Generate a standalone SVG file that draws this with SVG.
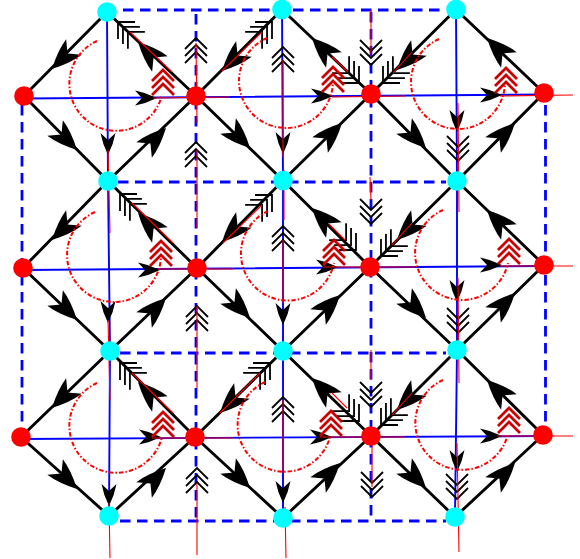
<svg xmlns="http://www.w3.org/2000/svg" width="580" height="559" viewBox="0 0 580 559">
<style>
.edge{fill:none;stroke:#000;stroke-width:2.9;stroke-linejoin:round}
.dash{fill:none;stroke:#00f;stroke-width:2.8;stroke-dasharray:10.500 6.500}
.blue{fill:none;stroke:#00f;stroke-width:1.9}
.thin{fill:none;stroke:#f00;stroke-width:1.1}
.arc{fill:none;stroke:#f00;stroke-width:2;stroke-dasharray:4.500 2 1.500 2}
.red{fill:#f00}
.cyan{fill:#0ff}
</style>
<defs>
<path id="big" d="M0 0Q-17 -9 -31 -11L-22 0L-31 11Q-17 9 0 0Z" fill="#000"/>
<path id="small" d="M0 0Q-11 -5.500 -22 -7.500L-15 0L-22 7.500Q-11 5.500 0 0Z" fill="#000"/>
<path id="chev" d="M-11 11L0 0L11 11M-11 18L0 7L11 18M-11 25L0 14L11 25" fill="none" stroke="#000" stroke-width="1.800"/>
<path id="chevd" d="M-12 12L0 0L12 12M-12 19L0 7L12 19M-12 26L0 14L12 26" fill="none" stroke="#000" stroke-width="1.800"/>
<path id="chevr" d="M-11 11L0 0L11 11M-11 18L0 7L11 18M-11 25L0 14L11 25" fill="none" stroke="#c00" stroke-width="2.800"/>
</defs>
<g id="connectors">
<g id="dashed">
<path class="dash" d="M123 10H445M118 182H446M120 353H446M120 521H446"/>
<path class="dash" d="M196 14V521M371 12V520M22 105V428M545.500 105V426"/>
</g>
<g id="blue-lines">
<path class="blue" d="M24 98.500L544 94.500M23 270L544 266M21 439L543 436"/>
<path class="blue" d="M107 12L108 181L110 351L109 516M282 9.500L283 180.500L283 351L283 518M456 9.500L457 181L457 350L455 517"/>
</g>
<g id="diamonds">
<polygon class="edge" points="107,12 24,96 108,181 196,96"/>
<polygon class="edge" points="282,9.500 196,96 283,180.500 371,94"/>
<polygon class="edge" points="456,9.500 371,94 457,181 544,93"/>
<polygon class="edge" points="108,181 23,268 110,351 197,268"/>
<polygon class="edge" points="283,180.500 197,268 283,351 370,267"/>
<polygon class="edge" points="457,181 370,267 457,350 544,265"/>
<polygon class="edge" points="110,351 21,437 109,516 195,437"/>
<polygon class="edge" points="283,351 195,437 283,518 371,436"/>
<polygon class="edge" points="457,350 371,436 455,517 543,435"/>
</g>
<g id="big-arrows">
<use href="#big" transform="translate(52 69) rotate(135)"/>
<use href="#big" transform="translate(77 150) rotate(45)"/>
<use href="#big" transform="translate(166 128) rotate(-45)"/>
<use href="#big" transform="translate(138 42) rotate(-135)"/>
<use href="#big" transform="translate(222 71) rotate(135)"/>
<use href="#big" transform="translate(250 148) rotate(45)"/>
<use href="#big" transform="translate(342 123) rotate(-45)"/>
<use href="#big" transform="translate(312 38) rotate(-135)"/>
<use href="#big" transform="translate(397 70) rotate(135)"/>
<use href="#big" transform="translate(426 148) rotate(45)"/>
<use href="#big" transform="translate(515 123) rotate(-45)"/>
<use href="#big" transform="translate(487 38) rotate(-135)"/>
<use href="#big" transform="translate(52 240) rotate(135)"/>
<use href="#big" transform="translate(77 320) rotate(45)"/>
<use href="#big" transform="translate(166 298) rotate(-45)"/>
<use href="#big" transform="translate(138 213) rotate(-135)"/>
<use href="#big" transform="translate(222 242) rotate(135)"/>
<use href="#big" transform="translate(250 318) rotate(45)"/>
<use href="#big" transform="translate(340 295) rotate(-45)"/>
<use href="#big" transform="translate(312 208) rotate(-135)"/>
<use href="#big" transform="translate(397 240) rotate(135)"/>
<use href="#big" transform="translate(426 318) rotate(45)"/>
<use href="#big" transform="translate(515 293) rotate(-45)"/>
<use href="#big" transform="translate(487 210) rotate(-135)"/>
<use href="#big" transform="translate(52 408) rotate(135)"/>
<use href="#big" transform="translate(77 489) rotate(45)"/>
<use href="#big" transform="translate(166 468) rotate(-45)"/>
<use href="#big" transform="translate(138 382) rotate(-135)"/>
<use href="#big" transform="translate(220 413) rotate(135)"/>
<use href="#big" transform="translate(250 488) rotate(45)"/>
<use href="#big" transform="translate(340 463) rotate(-45)"/>
<use href="#big" transform="translate(312 378) rotate(-135)"/>
<use href="#big" transform="translate(397 410) rotate(135)"/>
<use href="#big" transform="translate(426 488) rotate(45)"/>
<use href="#big" transform="translate(515 463) rotate(-45)"/>
<use href="#big" transform="translate(487 380) rotate(-135)"/>
</g>
<g id="small-arrows">
<use href="#small" transform="translate(157 98)"/>
<use href="#small" transform="translate(333 96)"/>
<use href="#small" transform="translate(502 95)"/>
<use href="#small" transform="translate(160 270)"/>
<use href="#small" transform="translate(338 267)"/>
<use href="#small" transform="translate(502 265)"/>
<use href="#small" transform="translate(161 437)"/>
<use href="#small" transform="translate(332 437)"/>
<use href="#small" transform="translate(502 436)"/>
<use href="#small" transform="translate(108 155) rotate(90)"/>
<use href="#small" transform="translate(283 154) rotate(90)"/>
<use href="#small" transform="translate(457 132) rotate(90)"/>
<use href="#small" transform="translate(108 323) rotate(90)"/>
<use href="#small" transform="translate(283 325) rotate(90)"/>
<use href="#small" transform="translate(457 302) rotate(90)"/>
<use href="#small" transform="translate(109 506) rotate(90)"/>
<use href="#small" transform="translate(283 503) rotate(90)"/>
<use href="#small" transform="translate(457 472) rotate(90)"/>
</g>
<g id="feathers">
<use href="#chevd" transform="translate(118 22) rotate(-45)"/>
<use href="#chevd" transform="translate(272 22) rotate(45)"/>
<use href="#chevd" transform="translate(359 83) rotate(135)"/>
<use href="#chevd" transform="translate(383 83) rotate(-135)"/>
<use href="#chevd" transform="translate(120 194) rotate(-45)"/>
<use href="#chevd" transform="translate(272 195) rotate(45)"/>
<use href="#chevd" transform="translate(356 250) rotate(135)"/>
<use href="#chevd" transform="translate(381 256) rotate(-135)"/>
<use href="#chevd" transform="translate(120 363) rotate(-45)"/>
<use href="#chevd" transform="translate(270 363) rotate(45)"/>
<use href="#chevd" transform="translate(359 421) rotate(135)"/>
<use href="#chevd" transform="translate(381 425) rotate(-135)"/>
</g>
<g id="chevrons">
<use href="#chev" transform="translate(196 38)"/>
<use href="#chev" transform="translate(196 142)"/>
<use href="#chev" transform="translate(197 306)"/>
<use href="#chev" transform="translate(197 468)"/>
<use href="#chev" transform="translate(283 47)"/>
<use href="#chev" transform="translate(283 226)"/>
<use href="#chev" transform="translate(283 397)"/>
<use href="#chev" transform="translate(371 65) rotate(180)"/>
<use href="#chev" transform="translate(371 224) rotate(180)"/>
<use href="#chev" transform="translate(371 407) rotate(180)"/>
<use href="#chev" transform="translate(372 497) rotate(180)"/>
<use href="#chev" transform="translate(458 161) rotate(180)"/>
<use href="#chev" transform="translate(458 333) rotate(180)"/>
<use href="#chev" transform="translate(457 499) rotate(180)"/>
</g>
<g id="red-lines">
<path class="thin" d="M130 32L172 72M262 32L222 71M332 57L348 72M412 52L393 73M132 203L173 243M262 205L223 243M329 224L345 240M412 223L392 245M132 373L173 413M260 373L220 413M332 393L347 408M412 393L392 415"/>
<path class="thin" d="M153 98L230 97M332 97L405 96M500 96L573 95M160 269L233 269M323 267L415 267M500 266L573 266M152 438L233 438M320 437L405 437M497 436L573 436"/>
<path class="thin" d="M196 43L197 123M197 150L197 228M197 306L197 388M197 483L197 555M283 60L283 157M284 170L284 220M283 240L283 303M283 400L283 473M285 507L286 558M108 150L110 233M108 320L110 400M109 503L110 558M371 10L371 55M370 177L371 200M371 350L371 380M372 443L372 487M458 103L459 212M458 278L459 383M457 443L459 552"/>
</g>
<g id="dash-dot-arcs">
<path class="arc" d="M97 41A47 47 0 1 0 162 95"/>
<path class="arc" d="M267 38A47 47 0 1 0 333 82"/>
<path class="arc" d="M439 39A47 47 0 1 0 505 83"/>
<path class="arc" d="M95 212A47 47 0 1 0 161 257"/>
<path class="arc" d="M268 211A47 47 0 1 0 334 263"/>
<path class="arc" d="M443 210A47 47 0 1 0 508 263"/>
<path class="arc" d="M97 383A47 47 0 1 0 162 437"/>
<path class="arc" d="M265 382A47 47 0 1 0 330 437"/>
<path class="arc" d="M443 380A47 47 0 1 0 508 434"/>
</g>
<g id="red-chevrons">
<use href="#chevr" transform="translate(163 70)"/>
<use href="#chevr" transform="translate(333 67)"/>
<use href="#chevr" transform="translate(506 68)"/>
<use href="#chevr" transform="translate(161 241)"/>
<use href="#chevr" transform="translate(334 240)"/>
<use href="#chevr" transform="translate(509 239)"/>
<use href="#chevr" transform="translate(163 412)"/>
<use href="#chevr" transform="translate(331 411)"/>
<use href="#chevr" transform="translate(509 408)"/>
</g>
</g>
<g id="node-c00"><circle class="cyan" cx="107" cy="12" r="9.800"/></g>
<g id="node-c01"><circle class="cyan" cx="282" cy="9.500" r="9.800"/></g>
<g id="node-c02"><circle class="cyan" cx="456" cy="9.500" r="9.800"/></g>
<g id="node-r00"><circle class="red" cx="24" cy="96" r="9.800"/></g>
<g id="node-r01"><circle class="red" cx="196" cy="96" r="9.800"/></g>
<g id="node-r02"><circle class="red" cx="371" cy="94" r="9.800"/></g>
<g id="node-r03"><circle class="red" cx="544" cy="93" r="9.800"/></g>
<g id="node-c10"><circle class="cyan" cx="108" cy="181" r="9.800"/></g>
<g id="node-c11"><circle class="cyan" cx="283" cy="180.500" r="9.800"/></g>
<g id="node-c12"><circle class="cyan" cx="457" cy="181" r="9.800"/></g>
<g id="node-r10"><circle class="red" cx="23" cy="268" r="9.800"/></g>
<g id="node-r11"><circle class="red" cx="197" cy="268" r="9.800"/></g>
<g id="node-r12"><circle class="red" cx="370" cy="267" r="9.800"/></g>
<g id="node-r13"><circle class="red" cx="544" cy="265" r="9.800"/></g>
<g id="node-c20"><circle class="cyan" cx="110" cy="351" r="9.800"/></g>
<g id="node-c21"><circle class="cyan" cx="283" cy="351" r="9.800"/></g>
<g id="node-c22"><circle class="cyan" cx="457" cy="350" r="9.800"/></g>
<g id="node-r20"><circle class="red" cx="21" cy="437" r="9.800"/></g>
<g id="node-r21"><circle class="red" cx="195" cy="437" r="9.800"/></g>
<g id="node-r22"><circle class="red" cx="371" cy="436" r="9.800"/></g>
<g id="node-r23"><circle class="red" cx="543" cy="435" r="9.800"/></g>
<g id="node-c30"><circle class="cyan" cx="109" cy="516" r="9.800"/></g>
<g id="node-c31"><circle class="cyan" cx="283" cy="518" r="9.800"/></g>
<g id="node-c32"><circle class="cyan" cx="455" cy="517" r="9.800"/></g>
</svg>
